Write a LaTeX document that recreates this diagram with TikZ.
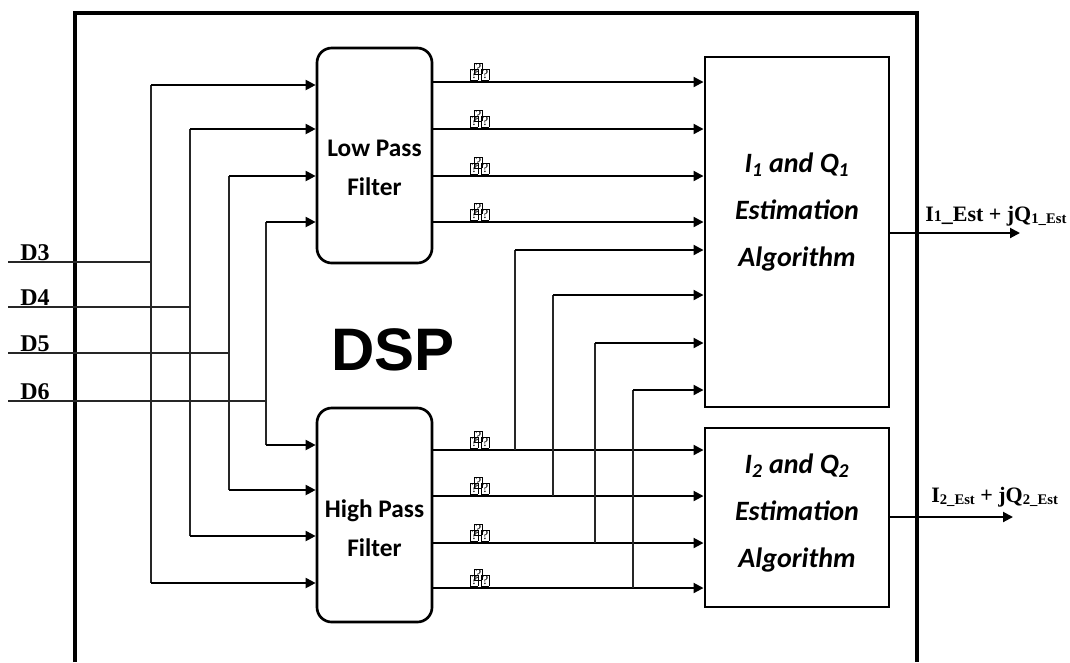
\documentclass[tikz,border=0pt]{standalone}
\usepackage{fontspec}
\setmainfont{Liberation Serif}
\newfontfamily\calfont{Carlito}
\newfontfamily\dspfont{Liberation Sans}
\usetikzlibrary{arrows.meta}
\newcommand{\qglyph}{{\setlength\fboxsep{0.4pt}\setlength\fboxrule{0.4pt}\fontsize{10}{10}\selectfont\fbox{?}\kern-3pt\raisebox{4.5pt}{\fbox{?}}\kern-0.8pt\fbox{?}}}
\tikzset{
  arr/.style={line width=1.5pt,-{Triangle[length=7.5pt,width=7.5pt]}},
  bus/.style={line width=0.9pt,black!85},
  filt/.style={draw,line width=2pt,rounded corners=11pt,minimum width=86.25pt,inner sep=0pt},
  ftext/.style={font=\calfont\bfseries\fontsize{19}{29}\selectfont,align=center,inner sep=0pt},
  est/.style={draw,line width=2.2pt,minimum width=138pt,inner sep=0pt},
  etext/.style={font=\calfont\bfseries\itshape\fontsize{21}{35}\selectfont,align=center,inner sep=0pt},
  dlab/.style={font=\bfseries\fontsize{18}{18}\selectfont,anchor=base west,inner sep=0pt},
  glab/.style={anchor=south west,inner sep=0pt},
  olab/.style={font=\bfseries\fontsize{16.5}{16.5}\selectfont,anchor=base west,inner sep=0pt}
}
\begin{document}
\begin{tikzpicture}[x=0.75pt,y=-0.75pt]
\useasboundingbox (0,0) rectangle (1070,662);
% DSP frame
\draw[line width=3pt] (75,662) -- (75,13) -- (917,13) -- (917,662);
\node[font=\dspfont\bfseries\fontsize{45}{45}\selectfont,inner sep=0pt] (dsp) at (393,350) {DSP};
% boxes
\node[filt,minimum height=161.25pt] (lpf) at (374.5,155.5) {};
\node[ftext] (lpft) at (374.5,168) {Low Pass\\Filter};
\node[filt,minimum height=160.5pt] (hpf) at (374.5,515) {};
\node[ftext] (hpft) at (374.5,528) {High Pass\\Filter};
\node[est,minimum height=262.5pt] (e1) at (797,232) {};
\node[etext] (e1t) at (797,212) {I\textsubscript{1} and Q\textsubscript{1}\\Estimation\\Algorithm};
\node[est,minimum height=134.25pt] (e2) at (797,517.5) {};
\node[etext] (e2t) at (797,513) {I\textsubscript{2} and Q\textsubscript{2}\\Estimation\\Algorithm};
% inputs
\foreach \n/\y/\x in {3/262/151,4/307/190,5/353/229,6/401/266}{
  \coordinate (d\n s) at (8,\y);
  \coordinate (d\n e) at (\x,\y);
  \draw[bus] (d\n s) -- (d\n e);
  \node[dlab] (ld\n) at (20,\y-2) {D\n};
}
% buses
\coordinate (b1t) at (151,85);  \coordinate (b1b) at (151,583);
\coordinate (b2t) at (190,129); \coordinate (b2b) at (190,536);
\coordinate (b3t) at (229,176); \coordinate (b3b) at (229,490);
\coordinate (b4t) at (266,222); \coordinate (b4b) at (266,445);
\foreach \i in {1,2,3,4}{
  \draw[bus] (b\i t) -- (b\i b);
  \draw[arr] (b\i t) -- (b\i t -| lpf.west);
  \draw[arr] (b\i b) -- (b\i b -| hpf.west);
}
% LPF outputs
\foreach \y in {82,129,176,222}{
  \coordinate (lo\y) at (432,\y);
  \draw[arr] (lo\y -| lpf.east) -- (lo\y -| e1.west);
  \node[glab] at (470,\y-1.5) {\qglyph};
}
% HPF outputs with branches
\foreach \y/\bx/\by in {450/515/250,496/553/295,543/595/343,588/633/390}{
  \coordinate (ho\y) at (432,\y);
  \coordinate (br\y) at (\bx,\y);
  \coordinate (bt\y) at (\bx,\by);
  \draw[arr] (ho\y -| hpf.east) -- (ho\y -| e2.west);
  \draw[bus] (br\y) -- (bt\y);
  \draw[arr] (bt\y) -- (bt\y -| e1.west);
  \node[glab] at (470,\y-1.5) {\qglyph};
}
% outputs
\coordinate (o1) at (1020,233);
\coordinate (o2) at (1013,517);
\draw[arr] (o1 -| e1.east) -- (o1);
\draw[arr] (o2 -| e2.east) -- (o2);
\node[olab] (lo1) at (925,221) {I{\fontsize{12}{12}\selectfont 1}\_Est + jQ\raisebox{-1.5pt}{\fontsize{11}{11}\selectfont 1\_Est}};
\node[olab] (lo2) at (931,502) {I\raisebox{-1.5pt}{\fontsize{11}{11}\selectfont 2\_Est} + jQ\raisebox{-1.5pt}{\fontsize{11}{11}\selectfont 2\_Est}};
\end{tikzpicture}
\end{document}
